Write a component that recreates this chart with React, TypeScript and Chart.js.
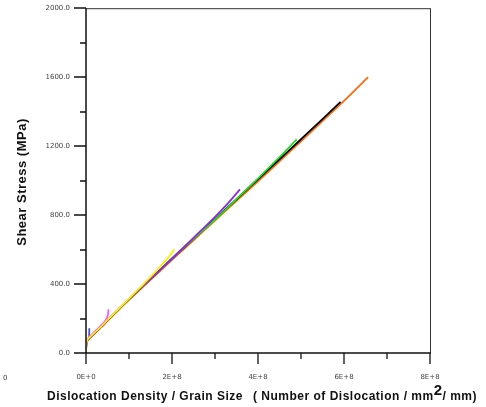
import React, { useEffect, useRef } from "react";
import { Chart, registerables } from "chart.js";

Chart.register(...registerables);

// x values in dislocations/mm^2/mm, y values in MPa
const orangeX = [0, 0.005e8, 0.02e8, 0.05e8, 0.1e8, 0.2e8, 0.35e8, 0.5e8, 0.75e8, 1e8, 1.5e8, 2e8, 2.5e8, 3e8, 3.5e8, 4e8, 4.5e8, 5e8, 5.5e8, 6e8, 6.56e8];
const orangeY = [0, 40, 62, 78, 90, 112, 148, 186, 248, 308, 424, 540, 654, 768, 882, 996, 1112, 1228, 1345, 1462, 1600];

const blackX = [0, 0.005e8, 0.02e8, 0.05e8, 0.1e8, 0.2e8, 0.35e8, 0.5e8, 0.75e8, 1e8, 1.5e8, 2e8, 2.5e8, 3e8, 3.5e8, 4e8, 4.5e8, 5e8, 5.5e8, 5.92e8];
const blackY = [0, 42, 64, 80, 92, 115, 151, 190, 252, 313, 430, 547, 662, 777, 892, 1008, 1124, 1240, 1357, 1457];

const greenX = [0, 0.005e8, 0.02e8, 0.05e8, 0.1e8, 0.2e8, 0.35e8, 0.5e8, 0.75e8, 1e8, 1.5e8, 2e8, 2.5e8, 3e8, 3.5e8, 4e8, 4.5e8, 4.9e8];
const greenY = [0, 42, 64, 80, 92, 115, 151, 190, 252, 313, 430, 547, 662, 774, 893, 1013, 1136, 1239];

const purpleX = [0, 0.005e8, 0.02e8, 0.05e8, 0.1e8, 0.2e8, 0.35e8, 0.5e8, 0.75e8, 1e8, 1.5e8, 2e8, 2.5e8, 3e8, 3.3e8, 3.58e8];
const purpleY = [0, 42, 64, 80, 92, 115, 151, 190, 252, 313, 430, 548, 668, 790, 868, 949];

const yellowX = [0, 0.005e8, 0.02e8, 0.05e8, 0.1e8, 0.2e8, 0.35e8, 0.5e8, 0.75e8, 1e8, 1.25e8, 1.5e8, 1.8e8, 1.95e8, 2.05e8];
const yellowY = [0, 44, 68, 82, 95, 118, 153, 192, 253, 316, 378, 441, 522, 566, 601];

const magentaX = [0, 0.005e8, 0.02e8, 0.05e8, 0.1e8, 0.2e8, 0.35e8, 0.48e8, 0.51e8, 0.526e8];
const magentaY = [0, 42, 66, 84, 99, 124, 160, 201, 224, 253];

const blueX = [0, 0.005e8, 0.02e8, 0.05e8, 0.07e8, 0.075e8, 0.077e8];
const blueY = [0, 44, 68, 82, 88, 112, 143];

const xTickStep = 1e8;
const yTickStep = 200;

const pts = (xs: number[], ys: number[]) => xs.map((x, i) => ({ x, y: ys[i] }));

const LEFT = 86;
const TOP = 8;
const RIGHT = 430;
const BOTTOM = 353;

const framePlugin = {
  id: "frame",
  afterDraw(chart: any) {
    const ctx = chart.ctx as any;
    const xs = chart.scales.x;
    const ys = chart.scales.y;
    const { left, right, top, bottom } = chart.chartArea;
    ctx.save();
    // frame top/right
    ctx.strokeStyle = "#333";
    ctx.lineWidth = 1;
    ctx.beginPath();
    ctx.moveTo(left, top + 0.5);
    ctx.lineTo(right, top + 0.5);
    ctx.moveTo(right + 0.5, top);
    ctx.lineTo(right + 0.5, bottom);
    ctx.stroke();
    // main axes
    ctx.strokeStyle = "#111";
    ctx.lineWidth = 1.5;
    ctx.beginPath();
    ctx.moveTo(left, top);
    ctx.lineTo(left, bottom);
    ctx.moveTo(left, bottom);
    ctx.lineTo(right + 1, bottom);
    ctx.stroke();
    // ticks
    ctx.lineWidth = 1.3;
    ctx.beginPath();
    for (let v = 0; v <= 2000 + 1e-6; v += yTickStep) {
      const py = Math.round(ys.getPixelForValue(v));
      const major = Math.round(v / yTickStep) % 2 === 0;
      ctx.moveTo(left - (major ? 12 : 6), py);
      ctx.lineTo(left, py);
    }
    for (let i = 0; i <= 8; i++) {
      const v = i * xTickStep;
      const px = Math.round(xs.getPixelForValue(v));
      const major = i % 2 === 0;
      ctx.moveTo(px, bottom);
      ctx.lineTo(px, bottom + (major ? 11 : 6));
    }
    ctx.stroke();

    // stray clipped label at far left
    ctx.fillStyle = "#444";
    ctx.font = '7px "DejaVu Sans"';
    ctx.textAlign = "left";
    ctx.textBaseline = "middle";
    ctx.fillText("0", 3, 378);

    // x title
    ctx.fillStyle = "#111";
    ctx.textBaseline = "alphabetic";
    ctx.letterSpacing = "0.5px";
    const f = 'bold 12px "Liberation Sans", Arial, sans-serif';
    ctx.font = f;
    const base = 400;
    ctx.fillText("Dislocation Density / Grain Size", 47, base);
    const partB = "( Number of Dislocation / mm";
    ctx.fillText(partB, 253, base);
    let xp = 253 + ctx.measureText(partB).width;
    ctx.font = 'bold 15px "Liberation Sans", Arial, sans-serif';
    ctx.fillText("2", xp, base - 5);
    xp += ctx.measureText("2").width;
    ctx.font = f;
    ctx.fillText("/ mm)", xp, base);

    // y title
    ctx.save();
    ctx.translate(22, 182);
    ctx.rotate(-Math.PI / 2);
    ctx.textAlign = "center";
    ctx.textBaseline = "middle";
    ctx.font = 'bold 13px "Liberation Sans", Arial, sans-serif';
    ctx.fillText("Shear Stress (MPa)", 0, 0);
    ctx.restore();
    ctx.restore();
  },
};

export default function App() {
  const ref = useRef<HTMLCanvasElement | null>(null);
  useEffect(() => {
    if (!ref.current) return;
    const mk = (label: string, xs: number[], ys: number[], color: string) => ({
      label,
      data: pts(xs, ys),
      borderColor: color,
      backgroundColor: color,
      borderWidth: 1.8,
      pointRadius: 0,
      fill: false,
      cubicInterpolationMode: "monotone" as const,
    });
    const chart = new Chart(ref.current, {
      type: "line",
      data: {
        datasets: [
          mk("yellow", yellowX, yellowY, "#ffee00"),
          mk("magenta", magentaX, magentaY, "#ff55ff"),
          mk("blue", blueX, blueY, "#4455dd"),
          mk("purple", purpleX, purpleY, "#8a2be2"),
          mk("green", greenX, greenY, "#22dd22"),
          mk("black", blackX, blackY, "#000000"),
          mk("orange", orangeX, orangeY, "#ff6a10"),
        ],
      },
      plugins: [framePlugin],
      options: {
        responsive: false,
        animation: false,
        devicePixelRatio: 1,
        layout: { padding: { left: 0, top: TOP, right: 486 - RIGHT, bottom: 0 } },
        plugins: { legend: { display: false }, tooltip: { enabled: false }, title: { display: false } },
        scales: {
          x: {
            type: "linear",
            min: 0,
            max: 8e8,
            afterFit: (s: any) => {
              s.height = 407 - BOTTOM;
            },
            border: { display: false },
            grid: { display: false, drawTicks: true, tickLength: 12 },
            ticks: {
              stepSize: xTickStep,
              autoSkip: false,
              maxRotation: 0,
              padding: 8,
              color: "#444",
              font: { family: "DejaVu Sans", size: 7 },
              callback: (v: any) => {
                const n = Math.round(Number(v) / 1e8);
                if (n % 2 !== 0) return "";
                return n === 0 ? "0E+0" : `${n}E+8`;
              },
            },
          },
          y: {
            type: "linear",
            min: 0,
            max: 2000,
            afterFit: (s: any) => {
              s.width = LEFT;
            },
            border: { display: false },
            grid: { display: false, drawTicks: true, tickLength: 12 },
            ticks: {
              stepSize: yTickStep,
              autoSkip: false,
              padding: 4,
              color: "#444",
              font: { family: "DejaVu Sans", size: 7 },
              callback: (v: any) => {
                const n = Math.round(Number(v));
                return n % 400 === 0 ? n.toFixed(1) : "";
              },
            },
          },
        },
      },
    });
    return () => chart.destroy();
  }, []);
  return (
    <div style={{ position: "absolute", left: 0, top: 0, width: 486, height: 407, background: "#fff" }}>
      <canvas ref={ref} width={486} height={407} style={{ display: "block" }} />
    </div>
  );
}
